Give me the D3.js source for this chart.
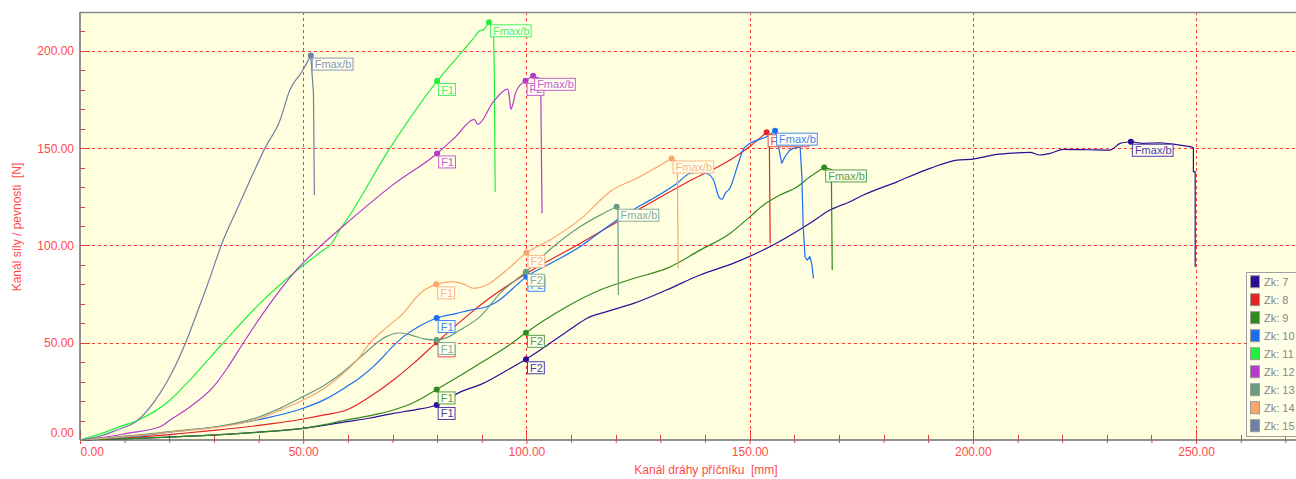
<!DOCTYPE html>
<html>
<head>
<meta charset="utf-8">
<script src="https://cdn.jsdelivr.net/npm/d3@7"></script>
<style>
  html, body { margin: 0; padding: 0; background: #ffffff; overflow: hidden; }
  svg { display: block; }
</style>
</head>
<body>
<svg id="chart" width="1296" height="479"></svg>
<script>
// Force [N] against crosshead travel [mm] for specimens Zk 7 - Zk 15
const seriesNames = ["Zk: 7", "Zk: 8", "Zk: 9", "Zk: 10", "Zk: 11", "Zk: 12", "Zk: 13", "Zk: 14", "Zk: 15"];
const seriesColors = ["#2c0f96", "#e52222", "#2f8a1c", "#1a6ef0", "#1ff03c", "#b43cc8", "#6b9c80", "#f9a66a", "#7080a4"];

const zk7 = [[0,0],[10,0.7],[20,1.5],[30.6,2.6],[40,4],[50,6],[59.7,9.4],[65,11.3],[70.2,13.7],[75,15.5],[79.9,18],[85,24.5],[90.3,29.1],[95,35],[99.9,41.5],[105.3,49.7],[110.5,58],[113.5,62.5],[118,66],[124,70.2],[131.4,77.1],[138.9,84.8],[146.3,90.8],[154.5,99.3],[163.5,111.4],[168,118.2],[172.5,122.5],[175.5,125.9],[183,132.7],[190.4,139.6],[196.4,143.9],[200.1,144.4],[205.4,146.8],[209,147.5],[212.8,147.8],[215,146.5],[217.3,147.3],[220.3,149.4],[226,149.2],[230.7,149],[233,152.5],[235.4,153.3],[238,152.5],[242,152.8],[244.9,152.1],[249,150.7],[249.4,150],[249.4,137.9],[249.8,137.9],[249.8,89]];
const zk8 = [[0,0],[5,0.5],[14.2,1.7],[22,3.2],[30.6,5.1],[40,7.5],[50,10.8],[55,13],[59.7,15.4],[65,22.3],[70.2,30.8],[74.7,39.4],[79.9,50.2],[87.4,65.1],[93,75],[100,85.6],[112,101],[124,117],[136,132.5],[145.6,143.9],[150.1,151],[153.8,158.2],[154.4,157],[154.5,130],[154.6,101]];
const zk9 = [[0,0],[10,0.7],[20,1.5],[30.6,2.6],[40,4],[50,6],[55,8],[59.7,10.3],[65,12.5],[70.2,15.4],[75,19.5],[79.9,26],[84.7,32.5],[89.6,39.4],[95,47],[99.9,55.1],[104,61.5],[109,68.5],[116.5,77.1],[124,83],[131.4,88.2],[138.9,97.6],[145.6,106.2],[150.1,114.8],[153.1,120.8],[156.8,125.9],[160.5,129.9],[163.5,135.3],[166.7,140.1],[168.3,139],[168.5,87.4]];
const zk10 = [[0,0],[5,0.8],[15,2.5],[22,4.5],[30.6,6.8],[40.3,10.6],[50,16.3],[55,21],[59.7,27.4],[63,32.5],[65.7,37.7],[67.2,41.1],[70,48],[72.4,53],[76,58.5],[79.9,62.7],[84.4,65.1],[87.4,66.8],[91.1,68.5],[94,72],[97,78],[100,83.9],[106,91.5],[112,99.3],[116,106],[120.2,113],[124,118.5],[127.7,123.3],[133.7,131.9],[136.6,137],[138.5,137.5],[140.4,137],[141.9,133.6],[143.1,125],[143.8,123.7],[144.6,127],[145.6,129.5],[147.1,139.5],[148.6,149.5],[150.1,152.5],[153.8,155.9],[155.7,159],[156.4,151.6],[157.2,142.2],[157.9,145.6],[159,149],[159.8,149.9],[161.3,150.7],[161.7,135.3],[162,109.6],[162.4,94.2],[162.9,92.5],[163.5,94.2],[163.9,90.8],[164.3,83.1]];
const zk11 = [[0,0],[5,3.5],[9,7],[13.1,10.3],[20.2,20.6],[24.6,30.8],[32.1,50],[40.3,70.2],[47.8,85.7],[53.8,96.5],[56.7,101.9],[57.9,107],[59.7,113],[69.4,149.9],[80,184.5],[85,198],[88,206],[89.5,210.3],[90.3,210.8],[91.6,214.7],[92.6,212],[92.8,190],[93,127.6]];
const zk12 = [[0,0],[5,1.2],[10.5,3.4],[17.9,6.8],[20.2,10.3],[24.6,17],[29.9,27.4],[33,37],[36.6,50],[42.6,70.2],[48.5,87.4],[54.5,101],[60.5,113],[70,131],[80,147.3],[84,155.5],[88.3,164.8],[89.1,162.2],[92.6,173.9],[95.8,180.4],[96.2,176],[96.5,170],[97,173],[97.5,178],[98.6,182.4],[99.8,184.6],[101.5,187.2],[103.2,185.5],[103.3,160],[103.5,116.6]];
const zk13 = [[0,0],[5,1],[15,3],[22,4.8],[30.6,6.8],[40.3,12],[45,16.5],[50,22.3],[55,28.5],[59,35.1],[63,43],[66,49],[68.5,53],[71.5,55],[74,54],[77,52],[79.9,51.4],[82,52.5],[85.1,56.5],[89.6,63.4],[94.1,75.4],[99.9,86.5],[106,99.3],[112,109.6],[116.5,115.6],[120.2,119.9],[120.5,118],[120.6,74.5]];
const zk14 = [[0,0],[5,0.8],[15,2.7],[22,4.5],[30.6,6.5],[40.3,11.1],[45,15.5],[50,20.6],[55,27],[59,34.3],[62,41],[65,50],[68.5,57.5],[72.4,65.1],[76.2,75.4],[79.8,80],[83.4,81.4],[86.4,79.7],[88.1,78],[91.1,79.7],[95.6,87.4],[100,96.2],[105.3,102.8],[112.7,114.7],[118.7,127.6],[125.4,135.3],[132.5,144.7],[133.8,143],[134,88.2]];
const zk15 = [[0,0],[4.5,2],[8.2,5.1],[13,10.3],[17.9,24],[20.9,36],[23.9,51.4],[26,64],[28.4,78.8],[32.1,102.8],[35.1,118.2],[38.1,133.6],[41.4,149.9],[44.8,164.4],[47,179.9],[49.7,189.3],[51.7,197.6],[52.3,177.8],[52.5,125.9]];

// Evaluation points: [label, travel, force]
const points7 = [["F1",79.9,18],["F2",99.9,41.5],["Fmax/b",235.4,153.3]];
const points8 = [["F1",79.9,50.2],["F2",100,85.6],["Fmax/b",153.8,158.2]];
const points9 = [["F1",79.9,26],["F2",99.9,55.1],["Fmax/b",166.7,140.1]];
const points10 = [["F1",79.9,62.7],["F2",100,83.9],["Fmax/b",155.7,159]];
const points11 = [["F1",80,184.5],["Fmax/b",91.6,214.7]];
const points12 = [["F1",80,147.3],["F2",99.8,184.6],["Fmax/b",101.5,187.2]];
const points13 = [["F1",79.9,51.4],["F2",99.9,86.5],["Fmax/b",120.2,119.9]];
const points14 = [["F1",79.8,80],["F2",100,96.2],["Fmax/b",132.5,144.7]];
const points15 = [["Fmax/b",51.7,197.6]];

const xMajorTicks = [0, 50, 100, 150, 200, 250];
const yMajorTicks = [0, 50, 100, 150, 200];
const xTitle = "Kanál dráhy příčníku  [mm]";
const yTitle = "Kanál síly / pevnosti  [N]";

const seriesData = [zk7, zk8, zk9, zk10, zk11, zk12, zk13, zk14, zk15];
const seriesPoints = [points7, points8, points9, points10, points11, points12, points13, points14, points15];

const svg = d3.select("#chart");
const plot = { left: 80, right: 1330, top: 12, bottom: 440 };
const x = d3.scaleLinear().domain([0, 280]).range([plot.left, plot.right]);
const y = d3.scaleLinear().domain([0, 220]).range([plot.bottom, plot.top]);

const axisFont = "'Liberation Sans Narrow', 'Arial Narrow', 'Liberation Sans', Arial, sans-serif";
const labelFont = "'Liberation Sans', Arial, sans-serif";
const red = "#ff4a4a";

// plot background
svg.append("rect")
  .attr("x", plot.left).attr("y", plot.top)
  .attr("width", plot.right - plot.left).attr("height", plot.bottom - plot.top)
  .attr("fill", "#ffffe0");

// dashed grid
const grid = svg.append("g").attr("stroke", "#ff3838").attr("stroke-width", 1)
  .attr("stroke-dasharray", "3,3").attr("shape-rendering", "crispEdges");
grid.selectAll("line.gx").data(xMajorTicks.filter(d => d > 0)).join("line")
  .attr("x1", d => Math.round(x(d)) + 0.5).attr("x2", d => Math.round(x(d)) + 0.5)
  .attr("y1", plot.top).attr("y2", plot.bottom);
grid.selectAll("line.gy").data(yMajorTicks.filter(d => d > 0)).join("line")
  .attr("class", "gy")
  .attr("x1", plot.left).attr("x2", plot.right)
  .attr("y1", d => Math.round(y(d)) + 0.5).attr("y2", d => Math.round(y(d)) + 0.5);

// axes
const fmt = d3.format(".2f");
const yAxis = svg.append("g").attr("transform", `translate(${plot.left},0)`)
  .call(d3.axisLeft(y).tickValues(yMajorTicks).tickFormat(fmt).tickSizeInner(-10).tickSizeOuter(0).tickPadding(6));
const yMinor = svg.append("g").attr("transform", `translate(${plot.left},0)`)
  .call(d3.axisLeft(y).tickValues(d3.range(10, 220, 10).filter(v => v % 50 !== 0)).tickFormat("").tickSizeInner(-5).tickSizeOuter(0));
const xAxis = svg.append("g").attr("transform", `translate(0,${plot.bottom})`)
  .call(d3.axisBottom(x).tickValues(xMajorTicks).tickFormat(fmt).tickSizeInner(-10).tickSizeOuter(0).tickPadding(7));
const xMinor = svg.append("g").attr("transform", `translate(0,${plot.bottom})`)
  .call(d3.axisBottom(x).tickValues(d3.range(10, 280, 10).filter(v => v % 50 !== 0)).tickFormat("").tickSizeInner(-5).tickSizeOuter(0));

[yAxis, yMinor, xAxis, xMinor].forEach(g => {
  g.select(".domain").remove();
  g.selectAll(".tick line").attr("stroke", "#f03a3a").attr("shape-rendering", "crispEdges");
  g.selectAll(".tick text").attr("fill", red).attr("font-family", axisFont).attr("font-size", 12);
});
// small outward stubs of the x ticks below the axis
xAxis.selectAll(".tick").append("line").attr("y1", 0).attr("y2", 4).attr("stroke", "#f03a3a");
xMinor.selectAll(".tick").append("line").attr("y1", 0).attr("y2", 3).attr("stroke", "#f03a3a");
// keep the zero labels inside the corner
yAxis.selectAll(".tick").filter(d => d === 0).select("text").attr("dy", "-0.28em");
xAxis.selectAll(".tick").filter(d => d === 0).select("text").attr("text-anchor", "start");

// frame
svg.append("line").attr("x1", plot.left).attr("x2", plot.right).attr("y1", plot.top + 0.5).attr("y2", plot.top + 0.5)
  .attr("stroke", "#8a8a8a").attr("stroke-width", 1.5);
svg.append("line").attr("x1", plot.left).attr("x2", plot.right).attr("y1", plot.bottom).attr("y2", plot.bottom)
  .attr("stroke", "#6e6e6e").attr("stroke-width", 1.5);
svg.append("line").attr("x1", plot.left).attr("x2", plot.left).attr("y1", plot.top).attr("y2", plot.bottom)
  .attr("stroke", "#6e6e6e").attr("stroke-width", 1.5);

// titles
svg.append("text").attr("x", 706).attr("y", 474).attr("text-anchor", "middle")
  .attr("font-family", axisFont).attr("font-size", 12).attr("fill", red)
  .style("white-space", "pre").text(xTitle);
svg.append("text").attr("transform", "translate(21,227) rotate(-90)").attr("text-anchor", "middle")
  .attr("font-family", axisFont).attr("font-size", 12).attr("fill", red)
  .style("white-space", "pre").text(yTitle);

// curves: smooth loading branch up to Fmax/b, straight segments for the break
const smooth = d3.line().x(d => x(d[0])).y(d => y(d[1])).curve(d3.curveMonotoneX);
const straight = d3.line().x(d => x(d[0])).y(d => y(d[1]));
const curves = svg.append("g").attr("fill", "none").attr("stroke-width", 1.2).attr("stroke-linejoin", "round");
seriesData.forEach((data, i) => {
  const peak = seriesPoints[i].find(p => p[0] === "Fmax/b");
  const k = data.findIndex(d => d[0] === peak[1] && d[1] === peak[2]);
  curves.append("path").attr("d", smooth(data.slice(0, k + 1))).attr("stroke", seriesColors[i]);
  curves.append("path").attr("d", straight(data.slice(k))).attr("stroke", seriesColors[i]);
});

// evaluation markers with tags
const tags = svg.append("g");
seriesPoints.forEach((pts, i) => {
  const c = seriesColors[i];
  const light = d3.interpolateRgb(c, "#ffffff")(0.18);
  pts.forEach(([name, px, py]) => {
    const cx = x(px), cy = y(py);
    tags.append("circle").attr("cx", cx).attr("cy", cy).attr("r", 3).attr("fill", c);
    const g = tags.append("g").attr("transform", `translate(${cx + 1},${cy + 2})`);
    const rect = g.append("rect").attr("x", 0.5).attr("y", 0.5).attr("height", 12)
      .attr("fill", "#ffffee").attr("stroke", light).attr("stroke-width", 1);
    const t = g.append("text").attr("x", 3).attr("y", 10.5)
      .attr("font-family", labelFont).attr("font-size", 11).attr("fill", light).text(name);
    rect.attr("width", t.node().getComputedTextLength() + 4);
  });
});

// legend
const legend = svg.append("g");
legend.append("rect").attr("x", 1246.5).attr("y", 272.5).attr("width", 70).attr("height", 164)
  .attr("fill", "#ffffe8").attr("stroke", "#a0a0a0");
seriesNames.forEach((name, i) => {
  const cy = 281.7 + i * 18;
  legend.append("rect").attr("x", 1250.5).attr("y", cy - 6).attr("width", 9).attr("height", 12)
    .attr("fill", seriesColors[i]).attr("stroke", "#9a9a9a");
  legend.append("text").attr("x", 1264).attr("y", cy + 4)
    .attr("font-family", labelFont).attr("font-size", 11).attr("fill", "#858585").text(name);
});
</script>
</body>
</html>
